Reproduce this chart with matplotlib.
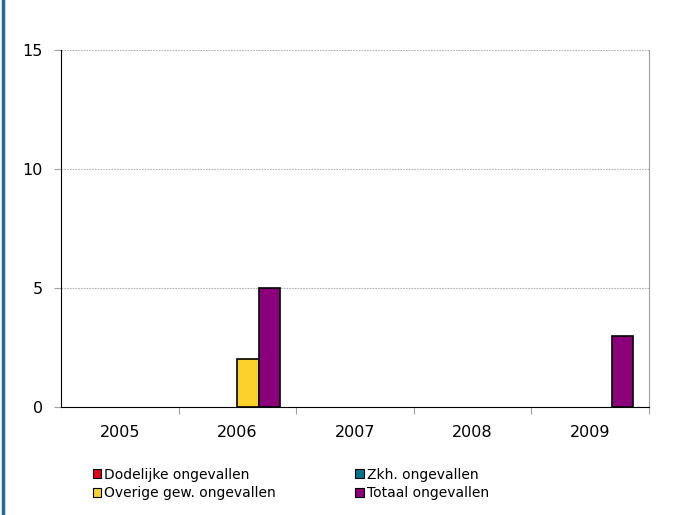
import matplotlib.pyplot as plt
import numpy as np
from matplotlib.lines import Line2D
from matplotlib.patches import Patch

years = ["2005", "2006", "2007", "2008", "2009"]
series_names = [
    "Dodelijke ongevallen",
    "Zkh. ongevallen",
    "Overige gew. ongevallen",
    "Totaal ongevallen",
]
dodelijke = [0, 0, 0, 0, 0]
zkh = [0, 0, 0, 0, 0]
overige = [0, 2, 0, 0, 0]
totaal = [0, 5, 0, 0, 3]
colors = ["#e2001a", "#00708f", "#fcd22a", "#8b007a"]

fig = plt.figure(figsize=(6.82, 5.15), dpi=100)
ax = fig.add_axes([61 / 682, 108 / 515, 588 / 682, 357 / 515])

x = np.arange(len(years))
width = 0.183
all_values = [dodelijke, zkh, overige, totaal]
for i, (vals, col) in enumerate(zip(all_values, colors)):
    offset = (i - 1.5) * width
    # empty bars get no outline
    edges = ["black" if v > 0 else "none" for v in vals]
    ax.bar(x + offset, vals, width, color=col, edgecolor=edges,
           linewidth=1.2, zorder=3)

ax.set_xlim(-0.5, len(years) - 0.5)
ax.set_ylim(0, 15)
ax.set_yticks([0, 5, 10, 15])
ax.set_xticks(x)
ax.set_xticklabels(years)
ax.set_xticks(np.arange(len(years)) + 0.5, minor=True)

ax.tick_params(axis="x", which="major", length=0, pad=13, labelsize=11.5)
ax.tick_params(axis="x", which="minor", length=5, color="#a0a0a0", width=0.8)
ax.tick_params(axis="y", length=5, color="#a0a0a0", width=0.8, pad=8,
               labelsize=11.5)

ax.yaxis.grid(True, color="#b4b4b4", linestyle=(0, (1.5, 1)), linewidth=0.8,
              zorder=0)
ax.spines["top"].set_visible(False)
ax.spines["right"].set_color("#a0a0a0")
ax.spines["right"].set_linewidth(0.8)
ax.spines["left"].set_color("black")
ax.spines["bottom"].set_color("black")

# blue bar along the left edge of the figure
fig.add_artist(Line2D([3 / 682, 3 / 682], [0, 1], color="#1f6d95",
                      linewidth=2.5, transform=fig.transFigure))

handles = [Patch(facecolor=c, edgecolor="black", linewidth=0.8) for c in colors]
order = [0, 2, 1, 3]
fig.legend([handles[i] for i in order], [series_names[i] for i in order],
           ncol=2, loc="upper left", bbox_to_anchor=(80 / 682, 1 - 455 / 515),
           frameon=False, fontsize=10, handlelength=0.6, handleheight=0.6,
           handletextpad=0.25, labelspacing=0.35, columnspacing=5.7)

fig.savefig("out.png", dpi=100)
plt.close(fig)
